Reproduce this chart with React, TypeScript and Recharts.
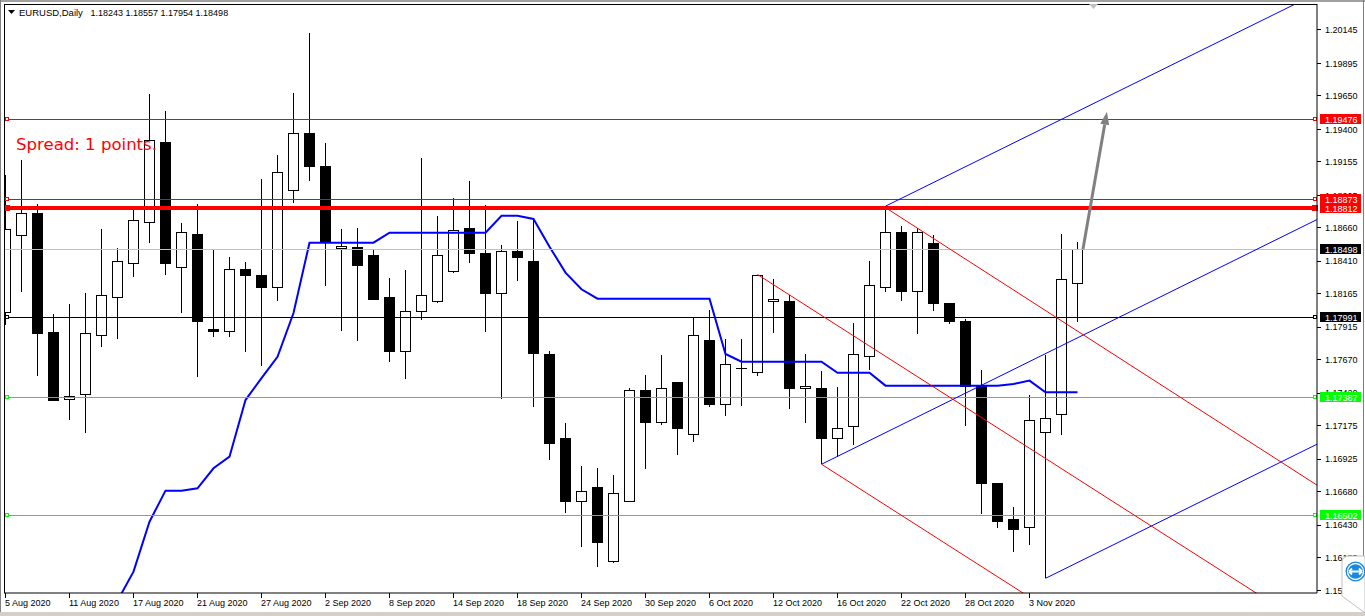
import React from 'react';
import { ComposedChart, Bar, Line, XAxis, YAxis, ReferenceLine } from 'recharts';

// ---------- data ----------
const dates = [
  '5 Aug 2020', '6 Aug 2020', '7 Aug 2020', '10 Aug 2020', '11 Aug 2020', '12 Aug 2020', '13 Aug 2020', '14 Aug 2020',
  '17 Aug 2020', '18 Aug 2020', '19 Aug 2020', '20 Aug 2020', '21 Aug 2020', '24 Aug 2020', '25 Aug 2020', '26 Aug 2020',
  '27 Aug 2020', '28 Aug 2020', '31 Aug 2020', '1 Sep 2020', '2 Sep 2020', '3 Sep 2020', '4 Sep 2020', '7 Sep 2020',
  '8 Sep 2020', '9 Sep 2020', '10 Sep 2020', '11 Sep 2020', '14 Sep 2020', '15 Sep 2020', '16 Sep 2020', '17 Sep 2020',
  '18 Sep 2020', '21 Sep 2020', '22 Sep 2020', '23 Sep 2020', '24 Sep 2020', '25 Sep 2020', '28 Sep 2020', '29 Sep 2020',
  '30 Sep 2020', '1 Oct 2020', '2 Oct 2020', '5 Oct 2020', '6 Oct 2020', '7 Oct 2020', '8 Oct 2020', '9 Oct 2020',
  '12 Oct 2020', '13 Oct 2020', '14 Oct 2020', '15 Oct 2020', '16 Oct 2020', '19 Oct 2020', '20 Oct 2020', '21 Oct 2020',
  '22 Oct 2020', '23 Oct 2020', '26 Oct 2020', '27 Oct 2020', '28 Oct 2020', '29 Oct 2020', '30 Oct 2020', '2 Nov 2020',
  '3 Nov 2020', '4 Nov 2020', '5 Nov 2020', '6 Nov 2020',
];

const openPrices = [
  1.18026, 1.18604, 1.18769, 1.17876, 1.17373, 1.17406, 1.17849, 1.18134, 1.18396, 1.18704,
  1.19297, 1.18366, 1.18607, 1.17901, 1.17879, 1.18351, 1.18306, 1.18216, 1.18944, 1.19372,
  1.19124, 1.18504, 1.18516, 1.18456, 1.18134, 1.17736, 1.18036, 1.18104, 1.18336, 1.18659,
  1.18471, 1.18164, 1.18479, 1.18404, 1.17713, 1.17076, 1.16603, 1.16715, 1.16160, 1.16610,
  1.17436, 1.17196, 1.17496, 1.17113, 1.17818, 1.17338, 1.17605, 1.17578, 1.18111, 1.18111,
  1.17451, 1.17458, 1.17076, 1.17166, 1.17691, 1.18216, 1.18622, 1.18179, 1.18539, 1.18089,
  1.17961, 1.17473, 1.16738, 1.16468, 1.16408, 1.17128, 1.17256, 1.18243,
];

const highPrices = [
  1.19057, 1.19169, 1.18839, 1.18014, 1.18089, 1.18171, 1.18652, 1.18509, 1.18809, 1.19665,
  1.19537, 1.18697, 1.18839, 1.18501, 1.18441, 1.18404, 1.19027, 1.19207, 1.19672, 1.20122,
  1.19297, 1.18652, 1.18659, 1.18494, 1.18284, 1.18344, 1.19184, 1.18749, 1.18884, 1.19012,
  1.18832, 1.18531, 1.18712, 1.18727, 1.17736, 1.17196, 1.16873, 1.16858, 1.16805, 1.17458,
  1.17556, 1.17706, 1.17496, 1.17984, 1.18044, 1.17826, 1.17826, 1.18310, 1.18276, 1.18156,
  1.17713, 1.17586, 1.17466, 1.17946, 1.18411, 1.18812, 1.18674, 1.18659, 1.18607, 1.18089,
  1.17976, 1.17593, 1.16738, 1.16565, 1.17406, 1.17706, 1.18614, 1.18557,
];

const lowPrices = [
  1.17931, 1.18181, 1.17548, 1.17360, 1.17218, 1.17121, 1.17766, 1.17826, 1.18291, 1.18546,
  1.18306, 1.18021, 1.17541, 1.17841, 1.17841, 1.17728, 1.17623, 1.18111, 1.18847, 1.19012,
  1.18224, 1.17886, 1.17811, 1.18119, 1.17653, 1.17526, 1.17969, 1.18096, 1.18321, 1.18396,
  1.17879, 1.17376, 1.18261, 1.17316, 1.16918, 1.16520, 1.16265, 1.16115, 1.16145, 1.16610,
  1.16850, 1.17181, 1.16955, 1.17053, 1.17316, 1.17248, 1.17323, 1.17548, 1.17871, 1.17301,
  1.17196, 1.16886, 1.16940, 1.17030, 1.17593, 1.18179, 1.18111, 1.17864, 1.18036, 1.17939,
  1.17173, 1.16513, 1.16408, 1.16227, 1.16280, 1.16030, 1.17106, 1.17954,
];

const closePrices = [
  1.18649, 1.18769, 1.17869, 1.17366, 1.17398, 1.17864, 1.18149, 1.18411, 1.18712, 1.19319,
  1.18389, 1.18622, 1.17954, 1.17879, 1.18344, 1.18299, 1.18216, 1.19072, 1.19372, 1.19117,
  1.18554, 1.18522, 1.18381, 1.18126, 1.17736, 1.18036, 1.18156, 1.18449, 1.18644, 1.18464,
  1.18164, 1.18486, 1.18434, 1.17721, 1.17045, 1.16603, 1.16685, 1.16302, 1.16670, 1.17436,
  1.17203, 1.17458, 1.17158, 1.17849, 1.17331, 1.17631, 1.17608, 1.18306, 1.18126, 1.17451,
  1.17466, 1.17076, 1.17151, 1.17713, 1.18231, 1.18622, 1.18186, 1.18622, 1.18096, 1.17954,
  1.17466, 1.16738, 1.16453, 1.16400, 1.17211, 1.17233, 1.18276, 1.18498,
];

// blue indicator line
const baseLine: (number | null)[] = [
  null, null, null, null, null, null, null, 1.15862, 1.16080, 1.16455,
  1.16688, 1.16688, 1.16706, 1.16856, 1.16943, 1.17368, 1.17533, 1.17693, 1.18021, 1.18549,
  1.18549, 1.18549, 1.18549, 1.18549, 1.18624, 1.18624, 1.18624, 1.18624, 1.18624, 1.18624,
  1.18624, 1.18751, 1.18751, 1.18727, 1.18519, 1.18324, 1.18199, 1.18129, 1.18129, 1.18129,
  1.18129, 1.18129, 1.18129, 1.18129, 1.18129, 1.17714, 1.17656, 1.17656, 1.17656, 1.17656,
  1.17656, 1.17656, 1.17573, 1.17573, 1.17573, 1.17476, 1.17476, 1.17476, 1.17476, 1.17476,
  1.17476, 1.17476, 1.17476, 1.17488, 1.17514, 1.17426, 1.17426, 1.17426,
];

const dateTickIndex = [0, 4, 8, 12, 16, 20, 24, 28, 32, 36, 40, 44, 48, 52, 56, 60, 64];

const priceTicks = [
  1.20145, 1.19895, 1.1965, 1.194, 1.19155, 1.18905, 1.1866, 1.1841, 1.18165,
  1.17915, 1.1767, 1.1742, 1.17175, 1.16925, 1.1668, 1.1643, 1.16185, 1.15935,
];

const levelPrices = [1.19476, 1.18873, 1.18812, 1.18498, 1.17991, 1.17387, 1.16502];

// trend lines: [barIndex, price]
const trendStarts = [[55, 1.18823], [51, 1.16886], [65, 1.1603], [55, 1.18812], [47, 1.1831], [51, 1.16886]];
const trendEnds = [[81.96, 1.2042], [81.96, 1.18722], [81.96, 1.17036], [81.96, 1.1673], [81.96, 1.15629], [81.96, 1.14511]];

const arrowStart = [67.34, 1.18499];
const arrowEnd = [68.84, 1.19532];

const symbolName = 'EURUSD,Daily';
const headerValues = [1.18243, 1.18557, 1.17954, 1.18498];
const spreadText = 'Spread: 1 points.';

// ---------- styles ----------
const FONT = 'Liberation Sans, Arial, sans-serif';
const X_DOMAIN: [number, number] = [-0.09375, 81.96875];
const Y_DOMAIN: [number, number] = [1.159199, 1.203401];

const levelStyles = [
  { line: '#ff0000', width: 1, box: '#ff0000', square: 'hollow' },
  { line: '#ff0000', width: 1, box: '#ff0000', square: 'hollow' },
  { line: '#ff0000', width: 4, box: '#ff0000', square: 'filled' },
  { line: '#c0c0c0', width: 1, box: '#000000', square: 'none' },
  { line: '#000000', width: 1, box: '#000000', square: 'hollow' },
  { line: '#00ff00', width: 1, box: '#00ff00', square: 'hollow' },
  { line: '#00ff00', width: 1, box: '#00ff00', square: 'hollow' },
];
const trendColors = ['#0000ff', '#0000ff', '#0000ff', '#ff0000', '#ff0000', '#ff0000'];

const rows = dates.map((d, i) => ({
  i,
  date: d,
  o: openPrices[i],
  h: highPrices[i],
  l: lowPrices[i],
  c: closePrices[i],
  range: [lowPrices[i], highPrices[i]],
  k: baseLine[i],
}));

const allYTicks = [...priceTicks, ...levelPrices];

function Candle(props: any) {
  const { x, y, width, height, payload } = props;
  if (!payload || height == null) return null;
  const { o, h, l, c } = payload;
  const cx = x + width / 2;
  const py = (p: number) => (h === l ? y : y + ((h - p) / (h - l)) * height);
  const top = py(Math.max(o, c));
  const bot = py(Math.min(o, c));
  const bull = c >= o;
  return (
    <g shapeRendering="crispEdges">
      <line x1={cx} x2={cx} y1={y} y2={y + height} stroke="#000" strokeWidth={1} />
      <rect
        x={cx - 5}
        y={top}
        width={10}
        height={Math.max(bot - top, 0)}
        fill={bull ? '#ffffff' : '#000000'}
        stroke="#000"
        strokeWidth={1}
      />
    </g>
  );
}

function LevelLine({ x1, x2, y1, st }: any) {
  if (x1 == null || x2 == null || y1 == null) return null;
  const lo = Math.min(Number(x1), Number(x2));
  const hi = Math.max(Number(x1), Number(x2));
  const big = st.width > 1;
  const r = big ? Math.round(y1) : Math.floor(y1);
  const top = big ? r - 2 : r;
  return (
    <g shapeRendering="crispEdges">
      <rect x={lo} y={top} width={hi - lo} height={st.width} fill={st.line} />
      {st.square === 'hollow' && (
        <>
          <rect x={lo + 1.5} y={r - 1.5} width={3} height={3} fill="#fff" stroke={st.line} strokeWidth={1} />
          <rect x={hi - 3.5} y={r - 1.5} width={3} height={3} fill="#fff" stroke={st.line} strokeWidth={1} />
        </>
      )}
      {st.square === 'filled' && (
        <>
          <rect x={lo} y={r - 3} width={6} height={6} fill={st.line} />
          <rect x={hi - 5} y={r - 3} width={6} height={6} fill={st.line} />
        </>
      )}
    </g>
  );
}

function PriceTick(p: any) {
  const v = Number(p.payload.value);
  const k = levelPrices.indexOf(v);
  const axisX = p.x - 8;
  if (k >= 0) {
    const st = levelStyles[k];
    const r = st.width > 1 ? Math.round(p.y) : Math.floor(p.y);
    return (
      <g>
        <rect x={axisX + 3} y={r - 5} width={41} height={10} fill={st.box} shapeRendering="crispEdges" />
        <text x={p.x} y={r + 3.5} fill="#fff" fontSize={9} fontFamily={FONT}>
          {v.toFixed(5)}
        </text>
      </g>
    );
  }
  const r = Math.floor(p.y);
  return (
    <g>
      <rect x={axisX} y={r} width={4} height={1} fill="#000" shapeRendering="crispEdges" />
      <text x={p.x} y={p.y + 3.3} fontSize={9} fontFamily={FONT} fill="#000">
        {v.toFixed(5)}
      </text>
    </g>
  );
}

function ArrowShape(p: any) {
  const { x1, y1, x2, y2 } = p;
  const dx = x2 - x1;
  const dy = y2 - y1;
  const len = Math.hypot(dx, dy) || 1;
  const ux = dx / len;
  const uy = dy / len;
  const hl = 13;
  const hw = 4.5;
  const bx = x2 - ux * hl;
  const by = y2 - uy * hl;
  return (
    <g>
      <line x1={x1} y1={y1} x2={bx} y2={by} stroke="#808080" strokeWidth={3} />
      <polygon
        points={`${x2},${y2} ${bx - uy * hw},${by + ux * hw} ${bx + uy * hw},${by - ux * hw}`}
        fill="#808080"
      />
    </g>
  );
}

export default function App() {
  return (
    <div style={{ position: 'absolute', left: 0, top: 0, width: 1365, height: 616, background: '#fff', overflow: 'hidden' }}>
      <ComposedChart width={1365} height={616} data={rows} margin={{ top: 4, right: 0, bottom: 0, left: 4 }}>
        <XAxis
          dataKey="i"
          type="number"
          domain={X_DOMAIN}
          allowDataOverflow
          ticks={dateTickIndex}
          interval={0}
          height={23}
          tickSize={5}
          tickMargin={0}
          axisLine={{ stroke: '#000' }}
          tickLine={{ stroke: '#000' }}
          tick={(p: any) => (
            <text x={p.x - 0.5} y={p.y + 8} fontSize={9} fontFamily={FONT} fill="#000">
              {dates[p.payload.value]}
            </text>
          )}
        />
        <YAxis
          orientation="right"
          type="number"
          domain={Y_DOMAIN}
          allowDataOverflow
          ticks={allYTicks}
          interval={0}
          width={48}
          tickSize={4}
          tickMargin={4}
          axisLine={{ stroke: '#000' }}
          tickLine={{ stroke: 'none' }}
          tick={(p: any) => <PriceTick {...p} />}
        />
        <Bar dataKey="range" barSize={10} shape={(p: any) => <Candle {...p} />} isAnimationActive={false} />
        <Line
          dataKey="k"
          type="linear"
          stroke="#0000ff"
          strokeWidth={2}
          dot={false}
          activeDot={false}
          isAnimationActive={false}
        />
        {levelPrices.map((p, k) => (
          <ReferenceLine
            key={'lv' + k}
            y={p}
            stroke={levelStyles[k].line}
            strokeWidth={levelStyles[k].width}
            shape={(lp: any) => <LevelLine {...lp} st={levelStyles[k]} />}
          />
        ))}
        {trendStarts.map((s, k) => (
          <ReferenceLine
            key={'tr' + k}
            segment={[
              { x: s[0], y: s[1] },
              { x: trendEnds[k][0], y: trendEnds[k][1] },
            ]}
            stroke={trendColors[k]}
            strokeWidth={1}
            ifOverflow="hidden"
          />
        ))}
        <ReferenceLine
          segment={[
            { x: arrowStart[0], y: arrowStart[1] },
            { x: arrowEnd[0], y: arrowEnd[1] },
          ]}
          ifOverflow="visible"
          shape={(p: any) => <ArrowShape {...p} />}
        />
      </ComposedChart>
      <svg
        width={1365}
        height={616}
        style={{ position: 'absolute', left: 0, top: 0, pointerEvents: 'none' }}
      >
        <rect x={0} y={0} width={1365} height={2} fill="#a0a0a0" />
        <rect x={0} y={0} width={1} height={616} fill="#808080" />
        <rect x={1363} y={0} width={1} height={616} fill="#808080" />
        <rect x={0} y={612} width={1365} height={4} fill="#d4d0c8" />
        <line x1={4} y1={4.5} x2={1317} y2={4.5} stroke="#000" />
        <line x1={4.5} y1={4} x2={4.5} y2={593} stroke="#000" />
        <polygon points="8,10 15,10 11.5,14" fill="#000" />
        <text x={19} y={16} fontSize={9.5} fontFamily={FONT} fill="#000">{symbolName}</text>
        <text x={90.5} y={16} fontSize={9} fontFamily={FONT} fill="#000">
          {headerValues.map((v) => v.toFixed(5)).join(' ')}
        </text>
        <text
          x={16}
          y={150}
          fontSize={16.5}
          fontFamily="DejaVu Sans, sans-serif"
          fill="#ff0000"
          textLength={141}
          lengthAdjust="spacingAndGlyphs"
        >
          {spreadText}
        </text>
        <polygon points="1089,4 1098,4 1093.5,9" fill="#c0c0c0" />
        <path d="M1365,556 H1349 Q1342,556 1342,563 V596 L1365,613 Z" fill="#fff" stroke="#c0c0c0" />
        <circle cx={1355.5} cy={571.5} r={10} fill="#1a88e0" />
        <circle cx={1355.5} cy={571.5} r={8} fill="#1a88e0" stroke="#fff" strokeWidth={1.3} />
        <path d="M1349,571.5 H1362 M1349,571.5 L1352,568.5 M1349,571.5 L1352,574.5 M1362,571.5 L1359,568.5 M1362,571.5 L1359,574.5" stroke="#fff" strokeWidth={1.8} fill="none" />
      </svg>
    </div>
  );
}
